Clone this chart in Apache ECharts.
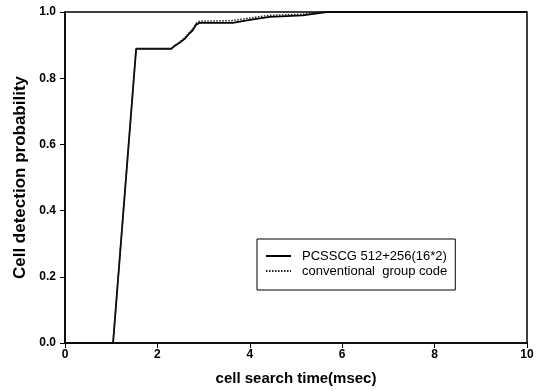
<!DOCTYPE html>
<html>
<head>
<meta charset="utf-8">
<script src="https://cdn.jsdelivr.net/npm/echarts@6/dist/echarts.min.js"></script>
<style>
  html, body { margin: 0; padding: 0; background: #fff; }
  #chart { width: 543px; height: 391px; }
</style>
</head>
<body>
<div id="chart"></div>
<script>
// values
const solidX = [0, 1.04, 1.54, 2.30, 2.37, 2.48, 2.59, 2.69, 2.76, 2.84, 2.91, 3.63, 4.0, 4.43, 5.14, 5.66, 6.0, 10]
const solidY = [0, 0, 0.889, 0.889, 0.897, 0.907, 0.919, 0.935, 0.944, 0.962, 0.967, 0.967, 0.976, 0.985, 0.990, 1.0, 1.0, 1.0]
const dottedX = [0, 1.04, 1.54, 2.30, 2.37, 2.48, 2.59, 2.69, 2.76, 2.84, 2.91, 3.63, 4.0, 4.43, 5.14, 5.5, 10]
const dottedY = [0, 0, 0.889, 0.889, 0.899, 0.909, 0.922, 0.938, 0.948, 0.966, 0.972, 0.974, 0.982, 0.990, 0.993, 1.0, 1.0]
const seriesNames = ['PCSSCG 512+256(16*2)', 'conventional  group code']

const pairs = (xs, ys) => xs.map((x, i) => [x, ys[i]])
const font = 'Liberation Sans'

const chart = echarts.init(document.getElementById('chart'))
chart.setOption({
  animation: false,
  grid: {
    left: 65, right: 16, top: 12, bottom: 46,
    show: true,
    borderColor: '#000',
    borderWidth: 1.5
  },
  legend: {
    orient: 'vertical',
    left: 257,
    top: 239,
    padding: [10, 8, 12, 8],
    itemWidth: 25,
    itemHeight: 10,
    itemGap: 1,
    borderColor: '#000',
    borderWidth: 1,
    itemStyle: { opacity: 0 },
    textStyle: {
      fontFamily: font,
      fontSize: 13,
      color: '#000',
      lineHeight: 14,
      padding: [0, 0, 0, 6]
    },
    data: seriesNames
  },
  xAxis: {
    type: 'value',
    min: 0,
    max: 10,
    interval: 2,
    name: 'cell search time(msec)',
    nameLocation: 'middle',
    nameGap: 28,
    nameTextStyle: { fontFamily: font, fontSize: 15, fontWeight: 'bold', color: '#000' },
    axisLine: { lineStyle: { color: '#000', width: 1.5 } },
    axisTick: { show: true, inside: false, length: 5, lineStyle: { color: '#000' } },
    axisLabel: { fontFamily: font, fontSize: 12, fontWeight: 'bold', color: '#000', margin: 6 },
    splitLine: { show: false }
  },
  yAxis: {
    type: 'value',
    min: 0,
    max: 1,
    interval: 0.2,
    name: 'Cell detection probability',
    nameLocation: 'middle',
    nameGap: 33,
    nameTextStyle: { fontFamily: font, fontSize: 17, fontWeight: 'bold', color: '#000' },
    axisLine: { show: true, lineStyle: { color: '#000', width: 1.5 } },
    axisTick: { show: true, inside: false, length: 5, lineStyle: { color: '#000' } },
    axisLabel: {
      fontFamily: font, fontSize: 12, fontWeight: 'bold', color: '#000', margin: 9,
      formatter: v => v.toFixed(1)
    },
    splitLine: { show: false }
  },
  series: [
    {
      name: seriesNames[0],
      type: 'line',
      symbol: 'none',
      lineStyle: { color: '#000', width: 1.8 },
      itemStyle: { color: '#000' },
      data: pairs(solidX, solidY)
    },
    {
      name: seriesNames[1],
      type: 'line',
      symbol: 'none',
      z: 3,
      lineStyle: { color: '#222', width: 1.5, type: [1.5, 1.5] },
      itemStyle: { color: '#222' },
      data: pairs(dottedX, dottedY)
    }
  ]
})
</script>
</body>
</html>
